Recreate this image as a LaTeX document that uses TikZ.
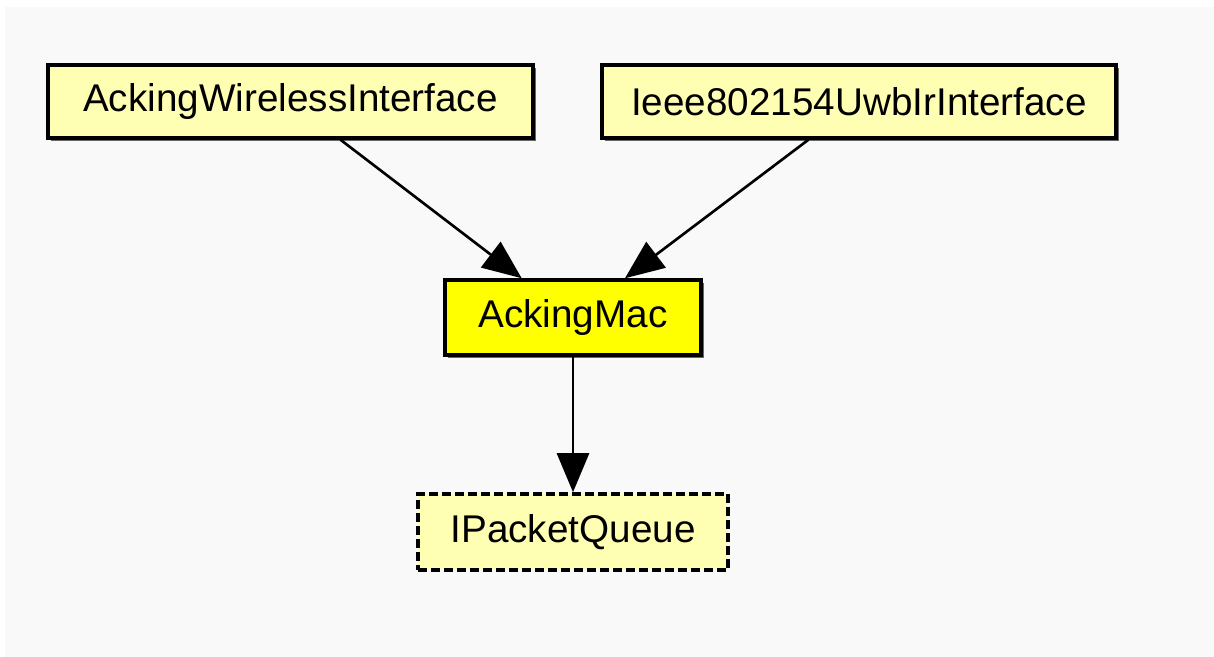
\documentclass[tikz,border=0pt]{standalone}
\usepackage{fontspec}
\setmainfont{Liberation Sans}
\usetikzlibrary{arrows.meta,shadows}

\definecolor{paleyellow}{HTML}{FFFFB4}
\definecolor{brightyellow}{HTML}{FFFF00}
\definecolor{canvas}{HTML}{F9F9F9}

\begin{document}
\begin{tikzpicture}[
  font=\fontsize{22}{26}\selectfont,
  mod/.style={draw, line width=2pt, fill=paleyellow, minimum height=1.46cm,
    drop shadow={shadow xshift=0.06cm, shadow yshift=-0.06cm, fill=black!60, opacity=1}},
  cur/.style={mod, fill=brightyellow, minimum height=1.5cm},
  iface/.style={draw, line width=2pt, fill=paleyellow, minimum height=1.52cm,
    dash pattern=on 0.18cm off 0.08cm},
  dep/.style={-{Triangle[length=0.78cm, width=0.64cm]}, line width=1.5pt}
]

%% ===== background =====
\useasboundingbox (0,0) rectangle (24.28,-13.14);
\fill[canvas] (0.1,-0.14) rectangle (24.28,-13.14);

%% ===== modules =====
\node[mod, minimum width=9.7cm] (wireless) at (5.81,-2.03) {AckingWirelessInterface};
\node[mod, minimum width=10.28cm] (uwbir) at (17.18,-2.03) {Ieee802154UwbIrInterface};
\node[cur, minimum width=5.12cm] (mac) at (11.46,-6.35) {AckingMac};
\node[iface, minimum width=6.2cm] (queue) at (11.46,-10.64) {IPacketQueue};

%% ===== dependencies =====
\draw[dep] (wireless) -- (mac);
\draw[dep] (uwbir) -- (mac);
\draw[dep] (mac) -- (queue);
\end{tikzpicture}
\end{document}
